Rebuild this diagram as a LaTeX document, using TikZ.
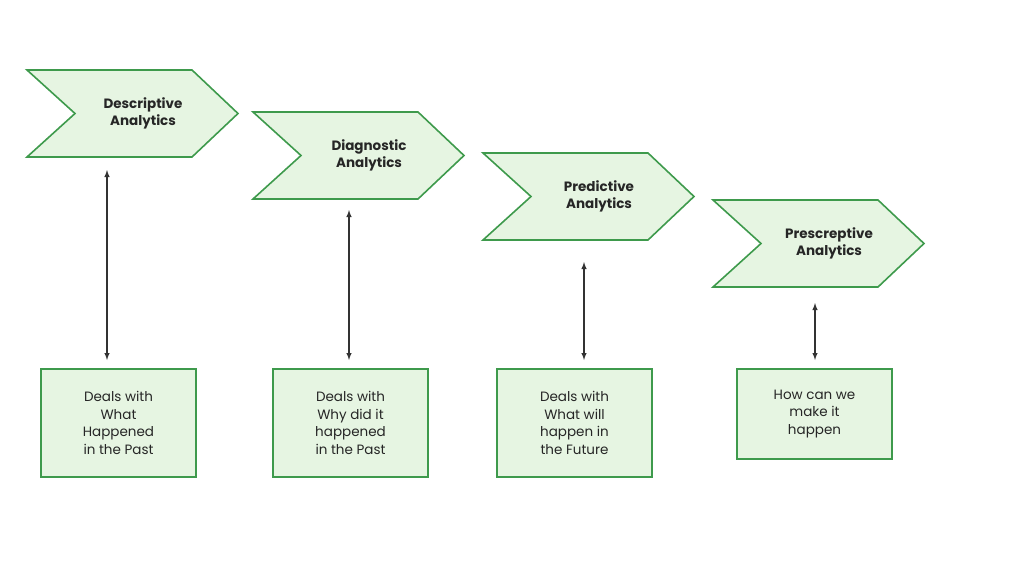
\documentclass[tikz,border=0pt]{standalone}
\usepackage{fontspec}
\setmainfont{Poppins}
\begin{document}
\begin{tikzpicture}[x=1pt,y=-1pt,
  shp/.style={draw=gbord,fill=gfill,line width=1.6pt,line join=miter},
  ttl/.style={font=\bfseries\fontsize{13.5}{17}\selectfont,align=center,text=black!85},
  box/.style={shp,font=\fontsize{13.5}{17.5}\selectfont,align=center,text=black!85,minimum width=155pt,inner sep=2pt},
  arr/.style={<->,>=latex,line width=1.4pt,draw=black!80}]
\definecolor{gbord}{HTML}{3E9A4C}
\definecolor{gfill}{HTML}{E6F5E2}
\useasboundingbox (0,0) rectangle (1024,575);
\newcommand\chev[5]{%
  \draw[shp] (#1,#2) -- (#1+165,#2) -- (#1+211,#2+43.5) -- (#1+165,#2+87) -- (#1,#2+87) -- (#1+48,#2+43.5) -- cycle;
  \node[ttl] (#3) at (#1+116,#2+43.5) {#4\\#5};}
\chev{27}{70}{c1}{Descriptive}{Analytics}
\chev{253}{112}{c2}{Diagnostic}{Analytics}
\chev{483}{153}{c3}{Predictive}{Analytics}
\chev{713}{200}{c4}{Prescreptive}{Analytics}
\node[box,minimum height=108pt] (b1) at (118.5,423) {Deals with\\What\\Happened\\in the Past};
\node[box,minimum height=108pt] (b2) at (350.5,423) {Deals with\\Why did it\\happened\\in the Past};
\node[box,minimum height=108pt] (b3) at (574.5,423) {Deals with\\What will\\happen in\\the Future};
\node[box,minimum height=90pt] (b4) at (814.5,414) {How can we\\make it\\happen};
\coordinate (t1) at (107,170); \coordinate (e1) at (107,360);
\coordinate (t2) at (349,210); \coordinate (e2) at (349,360);
\coordinate (t3) at (584,262); \coordinate (e3) at (584,360);
\coordinate (t4) at (815,303); \coordinate (e4) at (815,360);
\foreach \i in {1,...,4} \draw[arr] (t\i) -- (e\i);
\end{tikzpicture}
\end{document}
